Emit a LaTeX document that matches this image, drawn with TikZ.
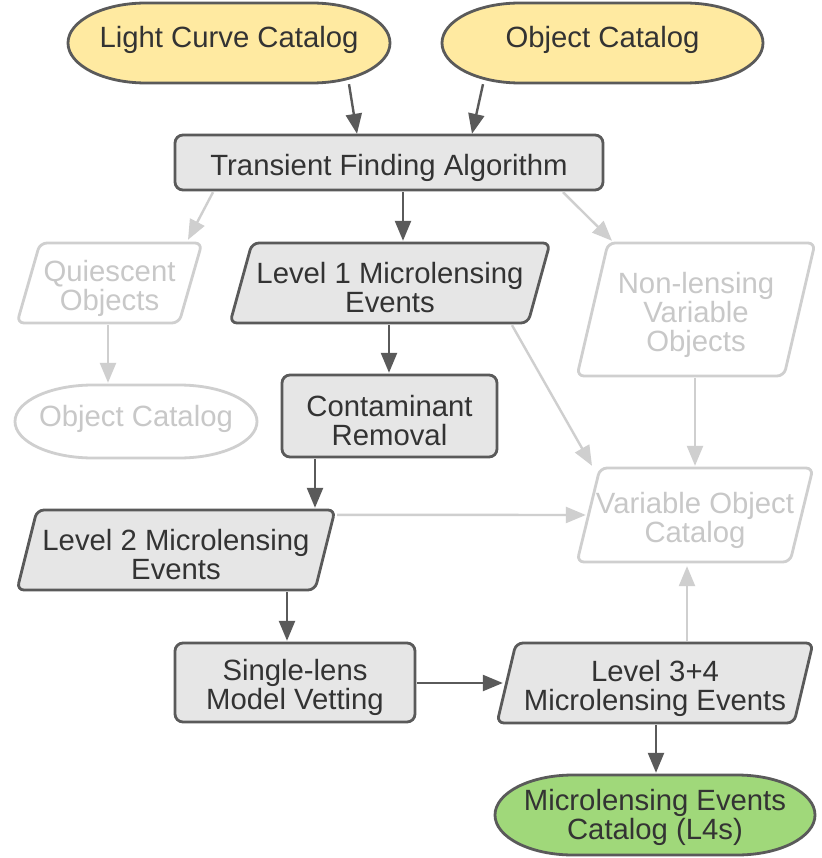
\documentclass[tikz,border=0pt]{standalone}
\usepackage{fontspec}
\setmainfont{Liberation Sans}
\usetikzlibrary{arrows.meta,calc}

\definecolor{inkdark}{HTML}{5A5A5A}
\definecolor{txtdark}{HTML}{333333}
\definecolor{boxfill}{HTML}{E6E6E6}
\definecolor{srcfill}{HTML}{FFEAA1}
\definecolor{outfill}{HTML}{A0D87A}
\definecolor{inklight}{HTML}{CFCFCF}
\definecolor{txtlight}{HTML}{C8C8C8}

\tikzset{
  label text/.style={font=\fontsize{29.3}{29}\selectfont, align=center, inner sep=0pt},
  darkshape/.style={draw=inkdark, line width=2.8pt, line join=round},
  lightshape/.style={draw=inklight, line width=2.8pt, line join=round, fill=white},
  darktext/.style={label text, text=txtdark},
  lighttext/.style={label text, text=txtlight},
  frame/.style={inner sep=0pt},
  darkarrow/.style={draw=inkdark, line width=2.4pt,
    -{Triangle[length=20pt,width=16pt]}},
  lightarrow/.style={draw=inklight, line width=2.4pt,
    -{Triangle[length=20pt,width=16pt]}},
}

% shared tail of every box macro: the frame node (#1) spanning the box
% corners #2..#5, and its text node #1txt set a little below the middle
\newcommand\flowframe[7]{%
  \node[frame, minimum width={(#4-#2)*1pt}, minimum height={(#5-#3)*1pt}]
    (#1) at ({(#2+#4)/2},{(#3+#5)/2}) {};
  \node[#6] (#1txt) at ({(#2+#4)/2},{(#3+#5)/2+5}) {#7};}

% capsule: #1 style, #2 name, #3-#6 box corners (x0,y0,x1,y1), #7 text style, #8 text
\newcommand\capsulenode[8]{%
  \path[#1] ({#3+78},#4) -- ({#5-78},#4)
    arc[start angle=90, end angle=-90, x radius=78pt, y radius={(#6-#4)/2*1pt}]
    -- ({#3+78},#6)
    arc[start angle=270, end angle=90, x radius=78pt, y radius={(#6-#4)/2*1pt}]
    -- cycle;
  \flowframe{#2}{#3}{#4}{#5}{#6}{#7}{#8}}

% rounded process box: same arguments as the capsule
\newcommand\rectnode[8]{%
  \path[#1, rounded corners=8pt] (#3,#4) rectangle (#5,#6);
  \flowframe{#2}{#3}{#4}{#5}{#6}{#7}{#8}}

% slanted data box: #1 style, #2 name, #3-#6 box corners, #7 slant, #8 text style, #9 text
\newcommand\slantnode[9]{%
  \path[#1, rounded corners=7pt] (#3,#6) -- ({#3+#7},#4) -- (#5,#4)
    -- ({#5-#7},#6) -- cycle;
  \flowframe{#2}{#3}{#4}{#5}{#6}{#8}{#9}}

\begin{document}
\begin{tikzpicture}[x=1pt, y=-1pt]
  \path[fill=white] (0,0) rectangle (821,858);
  \useasboundingbox (0,0) rectangle (821,858);

  % sources
  \capsulenode{darkshape, fill=srcfill}{lcc}{68}{3}{390}{83}{darktext, yshift=8pt}{Light Curve Catalog}
  \capsulenode{darkshape, fill=srcfill}{ocat}{442}{3}{763}{83}{darktext, yshift=8pt}{Object Catalog}

  % processing steps
  \rectnode{darkshape, fill=boxfill}{tfa}{175}{135}{603}{190}{darktext}{Transient Finding Algorithm}
  \rectnode{darkshape, fill=boxfill}{cont}{282}{375}{497}{457}{darktext}{Contaminant\\Removal}
  \rectnode{darkshape, fill=boxfill}{slmv}{175}{643}{415}{722}{darktext}{Single-lens\\Model Vetting}

  % data products
  \slantnode{lightshape}{quies}{17}{243}{202}{323}{23}{lighttext}{Quiescent\\Objects}
  \slantnode{darkshape, fill=boxfill}{lone}{230}{243}{550}{323}{22}{darktext}{Level 1 Microlensing\\Events}
  \slantnode{lightshape}{nonlens}{577}{243}{815}{376}{31}{lighttext}{Non-lensing\\Variable\\Objects}
  \slantnode{lightshape}{voc}{577}{468}{813}{562}{23}{lighttext}{Variable Object\\Catalog}
  \slantnode{darkshape, fill=boxfill}{ltwo}{17}{510}{335}{590}{20}{darktext}{Level 2 Microlensing\\Events}
  \slantnode{darkshape, fill=boxfill}{lthree}{497}{643}{813}{723}{19}{darktext}{Level 3+4\\Microlensing Events}

  % catalogs
  \capsulenode{lightshape}{ocattwo}{15}{385}{257}{458}{lighttext, yshift=8pt}{Object Catalog}
  \capsulenode{darkshape, fill=outfill}{mec}{495}{775}{815}{855}{darktext, yshift=3pt}{Microlensing Events\\Catalog (L4s)}

  % connectors
  \draw[darkarrow] ($(lcc.south)+(120,1)$) -- ($(tfa.north)+(-32,-1)$);
  \draw[darkarrow] ($(ocat.south)+(-119.5,1)$) -- ($(tfa.north)+(83,-1)$);
  \draw[lightarrow] ($(tfa.south)+(-176,2)$) -- ($(quies.north)+(78.5,-3)$);
  \draw[darkarrow] ($(tfa.south)+(14,2)$) -- ($(lone.north)+(13,-2)$);
  \draw[lightarrow] ($(tfa.south)+(174,2)$) -- ($(nonlens.north)+(-84,-2)$);
  \draw[lightarrow] ($(quies.south)+(-1.5,2)$) -- ($(ocattwo.north)+(-28,-2)$);
  \draw[darkarrow] ($(lone.south)+(-1,2)$) -- ($(cont.north)+(-0.5,-2)$);
  \draw[lightarrow] ($(lone.south)+(122,2)$) -- ($(voc.north)+(-103,-2)$);
  \draw[lightarrow] ($(nonlens.south)+(-1,2)$) -- ($(voc.north)+(0,-2)$);
  \draw[darkarrow] ($(cont.south)+(-74.5,2)$) -- ($(ltwo.north)+(139,-2)$);
  \draw[lightarrow] ($(ltwo.north east)+(2,5)$) -- ($(voc.west)+(9,0)$);
  \draw[darkarrow] ($(ltwo.south)+(111,2)$) -- ($(slmv.north)+(-8,-2)$);
  \draw[darkarrow] ($(slmv.east)+(2,0.5)$) -- ($(lthree.west)+(6,0)$);
  \draw[lightarrow] ($(lthree.north)+(32,-2)$) -- ($(voc.south)+(-8,4)$);
  \draw[darkarrow] ($(lthree.south)+(1,2)$) -- ($(mec.north)+(1,-2)$);
\end{tikzpicture}
\end{document}
